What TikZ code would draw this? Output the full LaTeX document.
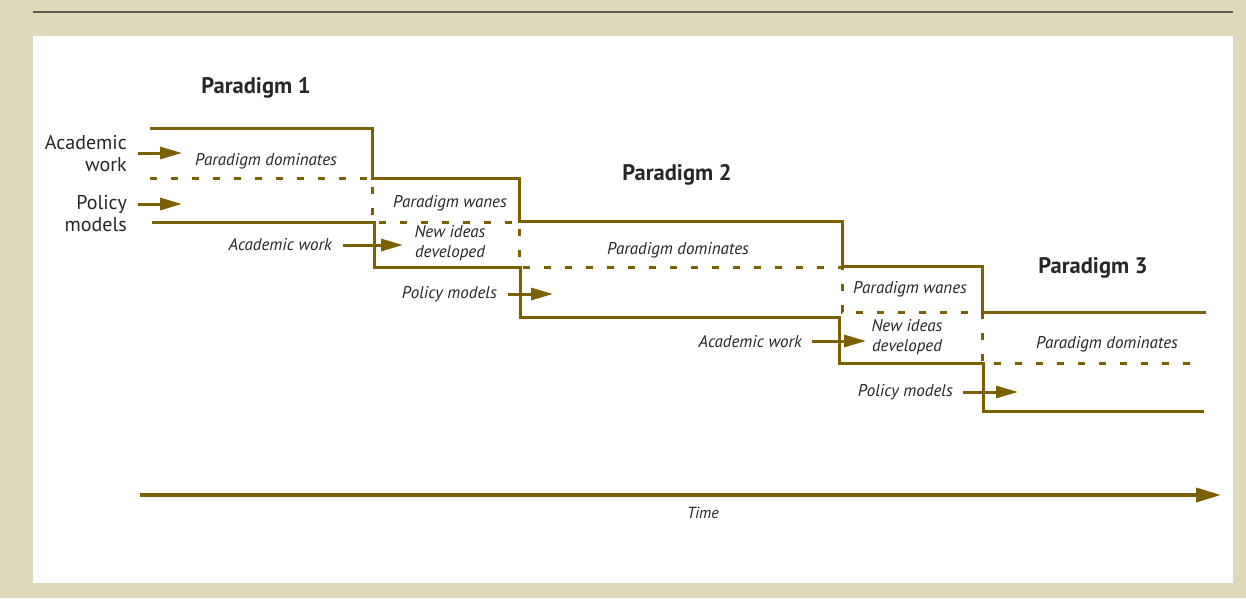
\documentclass[tikz,border=0pt]{standalone}
\usepackage{fontspec}
\setmainfont{PT Sans}
\usetikzlibrary{arrows.meta}
\definecolor{beige}{RGB}{224,216,186}
\definecolor{olivel}{RGB}{124,96,0}
\definecolor{rulegray}{RGB}{92,90,80}
\definecolor{txt}{RGB}{40,38,38}
\tikzset{
  bnd/.style={draw=olivel, line width=3pt},
  dsh/.style={draw=olivel, line width=3pt, dash pattern=on 7pt off 14pt},
  arr/.style={draw=olivel, line width=3pt, -{Triangle[length=22pt,width=12pt]}},
  tarr/.style={draw=olivel, line width=3.5pt, -{Triangle[length=25pt,width=14pt]}},
  lab/.style={text=txt, font=\fontsize{20}{22}\selectfont, align=right, anchor=east, inner sep=0pt},
  ilab/.style={text=txt, font=\fontsize{17}{20}\selectfont\itshape, align=center, inner sep=0pt},
  irl/.style={ilab, anchor=east},
  head/.style={text=txt, font=\fontsize{22.5}{24}\selectfont\bfseries, inner sep=0pt},
}
\begin{document}
\begin{tikzpicture}[x=1pt,y=-1pt]
\useasboundingbox (0,0) rectangle (1246,598);
\fill[beige] (0,0) rectangle (1246,598);
\fill[white] (33,36) rectangle (1233,583);
\draw[rulegray, line width=2.5pt] (33,12) -- (1233,12);

% boundaries
\draw[bnd] (150,128) -| (372,178) -| (519,221) -| (842,266) -| (982,312) -- (1206,312);
\draw[bnd] (152,222) -| (374,267) -| (520,317) -| (839,363) -| (983,411) -- (1204,411);
\draw[dsh] (150,178) -| (372,222) -| (519,267) -| (842,312) -| (982,363) -- (1190,363);

% headings
\node[head] (p1) at (256,88) {Paradigm 1};
\node[head] (p2) at (677,175) {Paradigm 2};
\node[head] (p3) at (1093,268) {Paradigm 3};

% left labels
\node[lab] (aw) at (127,154) {Academic\\work};
\node[lab] (pm) at (127,214) {Policy\\models};
\coordinate (aws) at (138,153); \coordinate (awe) at (182,153);
\coordinate (pms) at (138,204); \coordinate (pme) at (182,204);
\draw[arr] (aws) -- (awe);
\draw[arr] (pms) -- (pme);

% band texts
\node[ilab] (dom1) at (266,161) {Paradigm dominates};
\node[ilab] (wan1) at (450,203) {Paradigm wanes};
\node[ilab] (new1) at (450,243) {New ideas\\developed};
\node[ilab] (dom2) at (678,250) {Paradigm dominates};
\node[ilab] (wan2) at (910,289) {Paradigm wanes};
\node[ilab] (new2) at (907,337) {New ideas\\developed};
\node[ilab] (dom3) at (1107,344) {Paradigm dominates};

% input labels and arrows
\node[irl] (aw2) at (332,245) {Academic work};
\coordinate (aw2s) at (343,245); \coordinate (aw2e) at (403,245);
\draw[arr] (aw2s) -- (aw2e);
\node[irl] (pm2) at (497,294) {Policy models};
\coordinate (pm2s) at (508,294); \coordinate (pm2e) at (553,294);
\draw[arr] (pm2s) -- (pm2e);
\node[irl] (aw3) at (802,342) {Academic work};
\coordinate (aw3s) at (812,341); \coordinate (aw3e) at (866,341);
\draw[arr] (aw3s) -- (aw3e);
\node[irl] (pm3) at (953,392) {Policy models};
\coordinate (pm3s) at (963,392); \coordinate (pm3e) at (1018,392);
\draw[arr] (pm3s) -- (pm3e);

% time axis
\coordinate (ts) at (140,495); \coordinate (te) at (1221,495);
\draw[tarr] (ts) -- (te);
\node[ilab, font=\fontsize{16}{18}\selectfont\itshape] (time) at (703,513) {Time};
\end{tikzpicture}
\end{document}
